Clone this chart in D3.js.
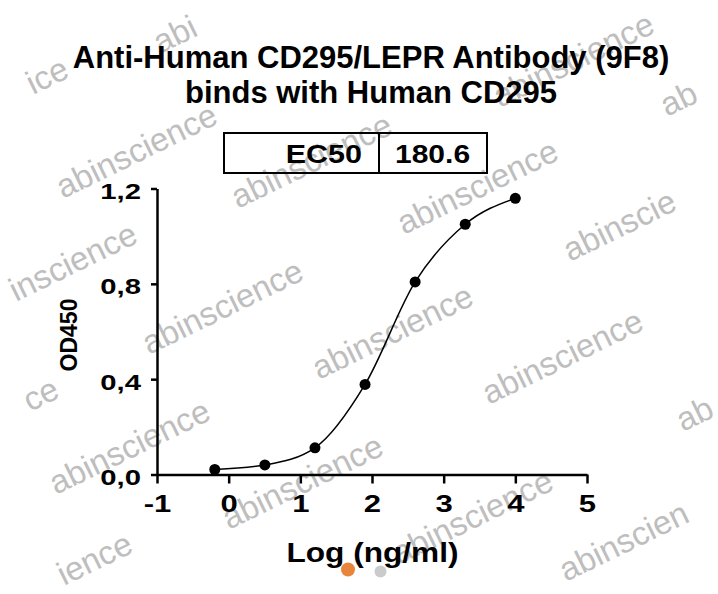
<!DOCTYPE html>
<html lang="en">
<head>
<meta charset="UTF-8">
<title>CD295 binding</title>
<script src="https://cdn.jsdelivr.net/npm/d3@7"></script>
<style>
  body { margin: 0; background: #fff; }
  svg { display: block; font-family: "Liberation Sans", Arial, sans-serif; }
  .axis path, .axis line { stroke: #000; stroke-width: 2.5; }
  .axis text { font-weight: bold; fill: #000; }
  .wm { font-size: 33px; fill: #bebebe; }
</style>
</head>
<body>
<svg width="718" height="594"></svg>
<script>
// data
var logConc = [-0.194, 0.505, 1.204, 1.903, 2.602, 3.301, 4.0];
var od450 = [0.021, 0.040, 0.112, 0.378, 0.808, 1.050, 1.159];
var xTicks = [-1, 0, 1, 2, 3, 4, 5];
var yTicks = [0, 0.4, 0.8, 1.2];
var titleLines = ["Anti-Human CD295/LEPR Antibody (9F8)", "binds with Human CD295"];
var ec50Label = "EC50";
var ec50Value = "180.6";

// watermark: visible text and baseline start
var marks = [["abi", 160, 54], ["abinscience", 500, 108], ["ice", 33, 95], ["ab", 667, 117],
             ["abinscience", 63, 199], ["abinscience", 238, 209], ["abinscience", 404, 235],
             ["abinscie", 570, 262], ["inscience", 16, 302],
             ["abinscience", 149, 355], ["abinscience", 319, 380], ["abinscience", 489, 405],
             ["ce", 30, 412], ["ab", 683, 432],
             ["abinscience", 56, 495], ["abinscience", 229, 530], ["abinscience", 399, 565],
             ["ience", 64, 586], ["abinscien", 566, 582]];

var svg = d3.select("svg");

svg.selectAll(".wm")
    .data(marks)
    .enter().append("text")
    .attr("class", "wm")
    .attr("transform", function(d) { return "translate(" + d[1] + "," + d[2] + ") rotate(-26)"; })
    .text(function(d) { return d[0]; });

var x = d3.scaleLinear().domain([-1, 5]).range([157, 587]),
    y = d3.scaleLinear().domain([0, 1.2]).range([474.5, 188.5]);

var fmt = function(d) { return d3.format(".1f")(d).replace(".", ","); };

// title
svg.append("g").selectAll("text")
    .data(titleLines)
    .enter().append("text")
    .attr("x", 371)
    .attr("y", function(d, i) { return 68 + i * 35; })
    .attr("text-anchor", "middle")
    .style("font-size", "31px")
    .style("font-weight", "bold")
    .text(function(d) { return d; });

// EC50 box
var box = svg.append("g");
box.append("rect")
    .attr("x", 224).attr("y", 133)
    .attr("width", 263).attr("height", 40)
    .attr("fill", "none").attr("stroke", "#000").attr("stroke-width", 2);
box.append("line")
    .attr("x1", 379).attr("x2", 379).attr("y1", 133).attr("y2", 173)
    .attr("stroke", "#000").attr("stroke-width", 2);
box.append("text")
    .attr("transform", "translate(362,163) scale(1.22,1)")
    .attr("text-anchor", "end")
    .style("font-size", "25px").style("font-weight", "bold")
    .text(ec50Label);
box.append("text")
    .attr("transform", "translate(395,163) scale(1.2,1)")
    .style("font-size", "25px").style("font-weight", "bold")
    .text(ec50Value);

// axes
var gx = svg.append("g")
    .attr("class", "axis")
    .attr("transform", "translate(0," + y(0) + ")")
    .call(d3.axisBottom(x).tickValues(xTicks).tickFormat(function(d) { return String(d); })
        .tickSize(9).tickSizeOuter(0).tickPadding(12));
gx.selectAll("text")
    .style("font-size", "23px")
    .attr("transform", "scale(1.35,1)");

var gy = svg.append("g")
    .attr("class", "axis")
    .attr("transform", "translate(" + x(-1) + ",0)")
    .call(d3.axisLeft(y).tickValues(yTicks).tickFormat(fmt).tickSize(6).tickSizeOuter(0));
gy.selectAll("text")
    .style("font-size", "22px")
    .attr("x", -16 / 1.33)
    .attr("dy", "0.45em")
    .attr("transform", "scale(1.33,1)");

// axis titles
svg.append("text")
    .attr("transform", "translate(372.5,562) scale(1.13,1)")
    .attr("text-anchor", "middle")
    .style("font-size", "28px").style("font-weight", "bold")
    .text("Log (ng/ml)");

svg.append("text")
    .attr("transform", "translate(77,335) rotate(-90)")
    .attr("text-anchor", "middle")
    .style("font-size", "23px").style("font-weight", "bold")
    .text("OD450");

// small marks under axis title
svg.append("circle").attr("cx", 348).attr("cy", 569.5).attr("r", 7).attr("fill", "#e8853d");
svg.append("circle").attr("cx", 380.5).attr("cy", 571.5).attr("r", 6).attr("fill", "#cbcbcb");

// curve and points
var pts = logConc.map(function(d, i) { return [d, od450[i]]; });

var line = d3.line()
    .x(function(d) { return x(d[0]); })
    .y(function(d) { return y(d[1]); })
    .curve(d3.curveMonotoneX);

svg.append("path")
    .datum(pts)
    .attr("fill", "none")
    .attr("stroke", "#000")
    .attr("stroke-width", 1.5)
    .attr("d", line);

svg.selectAll(".dot")
    .data(pts)
    .enter().append("circle")
    .attr("class", "dot")
    .attr("cx", function(d) { return x(d[0]); })
    .attr("cy", function(d) { return y(d[1]); })
    .attr("r", 5.5)
    .attr("fill", "#000");
</script>
</body>
</html>
